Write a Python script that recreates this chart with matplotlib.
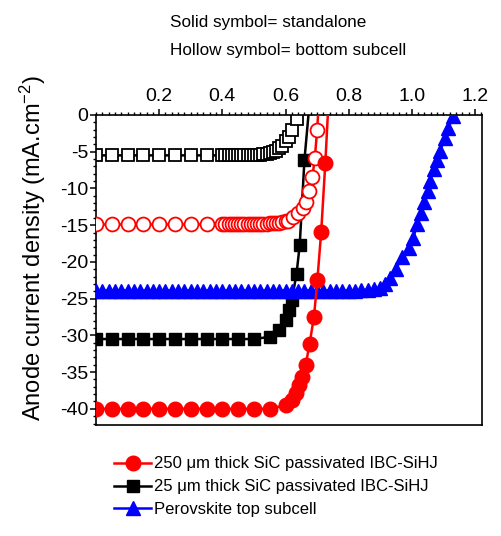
import matplotlib
matplotlib.use("Agg")
import matplotlib.pyplot as plt
from matplotlib.ticker import MultipleLocator

plt.rcParams['font.family'] = ['Liberation Sans', 'DejaVu Sans']
plt.rcParams['axes.unicode_minus'] = False
plt.rcParams['mathtext.fontset'] = 'custom'
plt.rcParams['mathtext.rm'] = 'Liberation Sans'
plt.rcParams['mathtext.it'] = 'Liberation Sans:italic'
plt.rcParams['mathtext.default'] = 'regular'

# 250 um SiC passivated IBC-SiHJ, standalone
v_250 = [0.00, 0.05, 0.10, 0.15, 0.20, 0.25, 0.30, 0.35, 0.40, 0.45, 0.50, 0.55,
         0.60, 0.62, 0.633, 0.643, 0.653, 0.664, 0.676, 0.690, 0.701, 0.713, 0.726, 0.740]
j_250 = [-40.0, -40.0, -40.0, -40.0, -40.0, -40.0, -40.0, -40.0, -40.0, -40.0, -40.0, -40.0,
         -39.5, -38.8, -37.8, -36.8, -35.6, -34.0, -31.2, -27.5, -22.4, -15.9, -6.6, 5.0]

# 250 um, as bottom subcell (filtered)
v_250b = [0.00, 0.05, 0.10, 0.15, 0.20, 0.25, 0.30, 0.35,
          0.40, 0.41, 0.42, 0.43, 0.44, 0.45, 0.46, 0.47, 0.48, 0.49, 0.50,
          0.51, 0.52, 0.53, 0.54, 0.55, 0.56, 0.57, 0.58, 0.59, 0.60,
          0.609, 0.624, 0.640, 0.654, 0.665, 0.673, 0.685, 0.693, 0.700, 0.706]
j_250b = [-14.9, -14.9, -14.9, -14.9, -14.9, -14.9, -14.9, -14.9,
          -14.9, -14.9, -14.9, -14.9, -14.9, -14.9, -14.9, -14.9, -14.9, -14.9, -14.9,
          -14.85, -14.85, -14.8, -14.8, -14.75, -14.7, -14.7, -14.65, -14.6, -14.5,
          -14.4, -13.9, -13.4, -12.7, -11.8, -10.3, -8.5, -5.8, -2.1, 2.0]

# 25 um SiC passivated IBC-SiHJ, standalone
v_25 = [0.00, 0.05, 0.10, 0.15, 0.20, 0.25, 0.30, 0.35, 0.40, 0.45, 0.50,
        0.55, 0.58, 0.60, 0.61, 0.62, 0.635, 0.645, 0.66, 0.68]
j_25 = [-30.5, -30.5, -30.5, -30.5, -30.5, -30.5, -30.5, -30.5, -30.5, -30.5, -30.5,
        -30.2, -29.3, -27.9, -26.5, -25.2, -21.6, -17.7, -6.1, 3.5]

# 25 um, as bottom subcell (filtered)
v_25b = [0.00, 0.05, 0.10, 0.15, 0.20, 0.25, 0.30, 0.35,
         0.40, 0.41, 0.42, 0.43, 0.44, 0.45, 0.46, 0.47, 0.48, 0.49, 0.50,
         0.51, 0.52, 0.53, 0.54, 0.55, 0.56, 0.57, 0.58, 0.59, 0.60,
         0.61, 0.62, 0.635, 0.645]
j_25b = [-5.5, -5.5, -5.5, -5.5, -5.5, -5.5, -5.5, -5.5,
         -5.5, -5.5, -5.5, -5.5, -5.5, -5.5, -5.5, -5.5, -5.5, -5.45, -5.45,
         -5.4, -5.4, -5.35, -5.3, -5.2, -5.1, -4.9, -4.5, -4.2, -3.6,
         -3.0, -2.0, -0.5, 1.0]

# perovskite top subcell
v_pvk = [0.00, 0.02, 0.04, 0.06, 0.08, 0.10, 0.12, 0.14, 0.16, 0.18, 0.20,
         0.22, 0.24, 0.26, 0.28, 0.30, 0.32, 0.34, 0.36, 0.38, 0.40,
         0.42, 0.44, 0.46, 0.48, 0.50, 0.52, 0.54, 0.56, 0.58, 0.60,
         0.62, 0.64, 0.66, 0.68, 0.70, 0.72, 0.74, 0.76, 0.78, 0.80,
         0.82, 0.84, 0.86, 0.88, 0.90, 0.915, 0.93, 0.95, 0.97, 0.99,
         1.005, 1.017, 1.028, 1.04, 1.05, 1.058, 1.07, 1.08, 1.09, 1.104,
         1.116, 1.13]
j_pvk = [-23.9] * 42 + [-23.85, -23.8, -23.7, -23.5, -23.0, -22.2, -20.9, -19.4, -18.1,
                        -16.7, -14.8, -13.3, -11.8, -10.3, -9.0, -7.4, -6.1, -4.9, -3.2,
                        -1.8, -0.2]

labels = ['250 μm thick SiC passivated IBC-SiHJ',
          '25 μm thick SiC passivated IBC-SiHJ',
          'Perovskite top subcell']

fig = plt.figure(figsize=(5.02, 5.36), dpi=100)
ax = fig.add_axes([0.1912, 0.2071, 0.7689, 0.5784])

lw = 1.8
ax.plot(v_25b, j_25b, color='black', lw=lw, marker='s', ms=9, mfc='white',
        mec='black', mew=1.3, zorder=2)
l25, = ax.plot(v_25, j_25, color='black', lw=lw, marker='s', ms=9, zorder=3)
lpvk, = ax.plot(v_pvk, j_pvk, color='blue', lw=lw, marker='^', ms=10, zorder=4)
ax.plot(v_250b, j_250b, color='red', lw=lw, marker='o', ms=10, mfc='white',
        mec='red', mew=1.3, zorder=5)
l250, = ax.plot(v_250, j_250, color='red', lw=lw, marker='o', ms=10.5, zorder=6)

ax.set_xlim(0, 1.222)
ax.set_ylim(-42.2, 0)
ax.xaxis.tick_top()
ax.set_xticks([0.2, 0.4, 0.6, 0.8, 1.0, 1.2])
ax.set_xticklabels(['0.2', '0.4', '0.6', '0.8', '1.0', '1.2'])
ax.xaxis.set_minor_locator(MultipleLocator(0.02))
ax.set_yticks(range(-40, 1, 5))
ax.yaxis.set_minor_locator(MultipleLocator(1))
ax.tick_params(axis='both', which='major', labelsize=14, length=4, width=1.1,
               direction='out', pad=3)
ax.tick_params(axis='both', which='minor', length=2.2, width=1.0, direction='out')
ax.tick_params(axis='x', which='both', top=True, bottom=False)
ax.tick_params(axis='y', which='both', left=True, right=False, pad=1.5)
for s in ax.spines.values():
    s.set_linewidth(1.2)

fig.text(33 / 502, 1 - 248 / 536, 'Anode current density (mA.cm$^{-2}$)',
         rotation=90, ha='center', va='center', fontsize=17)

fig.text(170 / 502, 1 - 22 / 536, 'Solid symbol= standalone',
         ha='left', va='center', fontsize=12.3)
fig.text(170 / 502, 1 - 50 / 536, 'Hollow symbol= bottom subcell',
         ha='left', va='center', fontsize=12.3)

fig.legend([l250, l25, lpvk], labels, loc='upper left',
           bbox_to_anchor=(106 / 502, 1 - 448 / 536), frameon=False,
           handlelength=2.2, handletextpad=0.18, labelspacing=0.48,
           borderpad=0, prop={'size': 12})

fig.savefig('out.png', dpi=100)
